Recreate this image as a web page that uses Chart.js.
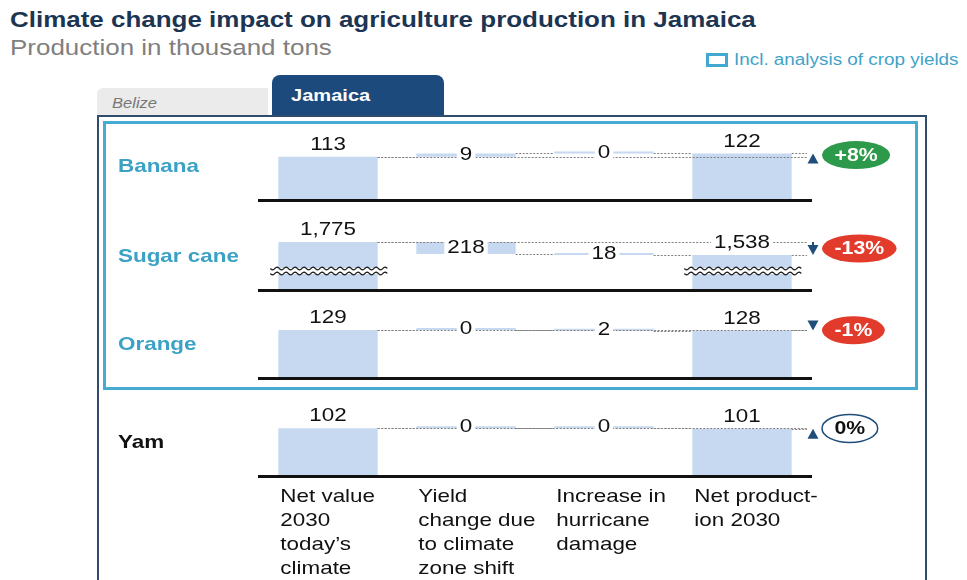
<!DOCTYPE html>
<html>
<head>
<meta charset="utf-8">
<script src="https://cdn.jsdelivr.net/npm/chart.js@4.4.1/dist/chart.umd.min.js"></script>
<style>
  html, body { margin: 0; padding: 0; background: #fff; }
  body { width: 967px; height: 580px; overflow: hidden; position: relative;
         font-family: "Liberation Sans", Arial, Helvetica, sans-serif; }
  .wide { position: absolute; white-space: nowrap; transform: scaleX(1.18); transform-origin: 0 0; }
  #title { left: 10px; top: 7px; font-size: 22px; font-weight: bold; color: #1c3553; }
  #subtitle { left: 10px; top: 35px; font-size: 22px; color: #7f7f7f; }
  #legendBox { position: absolute; left: 706px; top: 53px; width: 22px; height: 14px;
               border: 3px solid #3fa9cf; box-sizing: border-box; }
  #legendText { left: 734px; top: 51px; font-size: 16px; color: #3fa3c8; }
  .tab { position: absolute; box-sizing: border-box; }
  #tabBelize { left: 97px; top: 88px; width: 171px; height: 27px; background: #ebebeb; border-radius: 6px 0 0 0; }
  #tabJamaica { left: 272px; top: 75px; width: 172px; height: 40px; background: #1c4a7c; border-radius: 8px 8px 0 0; }
  #belizeText { left: 112px; top: 95px; font-size: 14px; font-style: italic; color: #777; }
  #jamaicaText { left: 291px; top: 86px; font-size: 17px; font-weight: bold; color: #fff; }
  #outerBox { position: absolute; left: 97px; top: 115px; width: 830px; height: 520px;
              border: 2px solid #2f4c6c; box-sizing: border-box; }
  #cropBox { position: absolute; left: 103px; top: 121px; width: 815px; height: 269px;
             border: 3px solid #45abd0; box-sizing: border-box; }
  canvas { position: absolute; left: 100px; }
</style>
</head>
<body>
<div id="title" class="wide">Climate change impact on agriculture production in Jamaica</div>
<div id="subtitle" class="wide">Production in thousand tons</div>
<div id="legendBox"></div>
<div id="legendText" class="wide">Incl. analysis of crop yields</div>
<div id="tabBelize" class="tab"></div>
<div id="tabJamaica" class="tab"></div>
<div id="belizeText" class="wide">Belize</div>
<div id="jamaicaText" class="wide">Jamaica</div>
<div id="outerBox"></div>
<div id="cropBox"></div>

<script>
// production figures, thousand tons
const crops = ['Banana', 'Sugar cane', 'Orange', 'Yam'];
const stepLabels = [
  ['Net value', '2030', 'today\u2019s', 'climate'],
  ['Yield', 'change due', 'to climate', 'zone shift'],
  ['Increase in', 'hurricane', 'damage'],
  ['Net product-', 'ion 2030']
];
const netToday = [113, 1775, 129, 102];
const yieldShift = [9, -218, 0, 0];
const hurricaneLoss = [0, -18, -2, 0];
const netFuture = [122, 1538, 128, 101];
const changePct = [8, -13, -1, 0];
const withYieldAnalysis = [true, true, true, false];

// y window of each row; sugar cane axis is cut (wavy marks)
const axisMin = [0, 900, 0, 0];
const axisMax = [178, 2140, 183, 145];
const baselineY = [200, 290, 378, 476];

const STRETCH = 1.18;
const FONT = '"Liberation Sans", Arial, Helvetica, sans-serif';
const BAR_BLUE = '#c6d9f1';
const TEAL = '#3ba2c6';
const NAVY = '#1f4e7a';

const fmt = v => v.toLocaleString('en-US');

function wideText(ctx, text, x, y, align) {
  ctx.save();
  ctx.translate(x, y);
  ctx.scale(STRETCH, 1);
  ctx.textAlign = align || 'center';
  ctx.textBaseline = 'middle';
  ctx.fillText(text, 0, 0);
  ctx.restore();
}
const wideWidth = (ctx, text) => ctx.measureText(text).width * STRETCH;

function dashed(ctx, x1, x2, y) {
  if (x2 <= x1) return;
  ctx.save();
  ctx.strokeStyle = '#808080';
  ctx.lineWidth = 1;
  ctx.setLineDash([2, 1.5]);
  ctx.beginPath();
  ctx.moveTo(x1, Math.round(y) + 0.5);
  ctx.lineTo(x2, Math.round(y) + 0.5);
  ctx.stroke();
  ctx.restore();
}

function boxedLabel(ctx, text, x, y) {
  const w = wideWidth(ctx, text) + 6;
  ctx.fillStyle = '#fff';
  ctx.fillRect(x - w / 2, y - 9, w, 18);
  ctx.fillStyle = '#111';
  wideText(ctx, text, x, y);
}

// double wavy line marking a cut axis
function wavyBreak(ctx, x1, x2, y) {
  ctx.save();
  ctx.fillStyle = '#fff';
  ctx.fillRect(x1, y - 3, x2 - x1, 6);
  ctx.strokeStyle = '#222';
  ctx.lineWidth = 1.2;
  [-2.5, 2.5].forEach(off => {
    ctx.beginPath();
    for (let x = x1; x <= x2; x += 1) {
      const yy = y + off + 1.4 * Math.sin((x - x1) / 9 * 2 * Math.PI);
      if (x === x1) ctx.moveTo(x, yy); else ctx.lineTo(x, yy);
    }
    ctx.stroke();
  });
  ctx.restore();
}

const rowDecor = {
  id: 'rowDecor',
  afterDatasetsDraw(chart, args, opts) {
    const r = opts.row;
    const {ctx, chartArea} = chart;
    const y = chart.scales.y;
    const bars = chart.getDatasetMeta(0).data;
    const left = i => bars[i].x - bars[i].width / 2;
    const right = i => bars[i].x + bars[i].width / 2;

    const today = netToday[r];
    const afterYield = today + yieldShift[r];
    const afterStorm = afterYield + hurricaneLoss[r];
    const levels = [today, afterYield, afterStorm];
    const arrowX = chartArea.right + 2;
    const yBase = y.getPixelForValue(today);
    const yNet = y.getPixelForValue(netFuture[r]);

    // reference line at today's value and running-total connectors
    dashed(ctx, right(0), arrowX - 6, yBase);
    for (let j = 0; j < 3; j++) dashed(ctx, right(j), left(j + 1), y.getPixelForValue(levels[j]));
    dashed(ctx, right(3), arrowX - 6, yNet);

    // baseline
    ctx.fillStyle = '#111';
    ctx.fillRect(chartArea.left - 1, chartArea.bottom - 1, chartArea.right - chartArea.left + 2, 3);

    if (axisMin[r] > 0) {
      [0, 3].forEach(i => wavyBreak(ctx, left(i) - 8, right(i) + 10, chartArea.bottom - 19));
    }

    // value labels
    ctx.font = '19px ' + FONT;
    [0, 3].forEach(i => boxedLabel(ctx, fmt(i === 0 ? today : netFuture[r]), bars[i].x, bars[i].y - 12));
    [yieldShift[r], hurricaneLoss[r]].forEach((d, k) => {
      const b = bars[k + 1];
      boxedLabel(ctx, fmt(Math.abs(d)), b.x, (b.y + b.base) / 2);
    });

    // change arrow
    const up = changePct[r] >= 0;
    const head = 10, hw = 5.5;
    ctx.fillStyle = NAVY;
    ctx.beginPath();
    const yHead = up ? yNet + head : yNet - head;
    ctx.moveTo(arrowX, yNet);
    ctx.lineTo(arrowX - hw, yHead);
    ctx.lineTo(arrowX + hw, yHead);
    ctx.closePath();
    ctx.fill();
    if (!up && yHead > yBase) ctx.fillRect(arrowX - 1, yBase, 2, yHead - yBase);
    if (up && yBase > yHead) ctx.fillRect(arrowX - 1, yHead, 2, yBase - yHead);

    // percentage badge
    const pct = changePct[r];
    const pctText = (pct > 0 ? '+' : '') + pct + '%';
    ctx.font = 'bold 18px ' + FONT;
    const w = wideWidth(ctx, pctText) + 25, h = 28;
    const cx = chartArea.right + 11 + w / 2, cy = (yBase + yNet) / 2;
    ctx.beginPath();
    ctx.ellipse(cx, cy, w / 2, h / 2, 0, 0, 2 * Math.PI);
    if (pct === 0) {
      ctx.fillStyle = '#fff';
      ctx.fill();
      ctx.strokeStyle = NAVY;
      ctx.lineWidth = 1.5;
      ctx.stroke();
      ctx.fillStyle = '#111';
    } else {
      ctx.fillStyle = pct > 0 ? '#2c9a4a' : '#e23b2c';
      ctx.fill();
      ctx.fillStyle = '#fff';
    }
    wideText(ctx, pctText, cx, cy + 1);

    // crop name
    ctx.font = 'bold 19px ' + FONT;
    ctx.fillStyle = withYieldAnalysis[r] ? TEAL : '#111';
    wideText(ctx, crops[r], 18, chartArea.bottom - 33, 'left');

    // step captions under the last row
    if (r === crops.length - 1) {
      ctx.font = '19px ' + FONT;
      ctx.fillStyle = '#111';
      stepLabels.forEach((lines, i) => {
        lines.forEach((ln, k) => wideText(ctx, ln, left(i) + 2, chartArea.bottom + 21 + 24 * k, 'left'));
      });
    }
  }
};

crops.forEach((crop, r) => {
  const last = r === crops.length - 1;
  const canvas = document.createElement('canvas');
  canvas.width = 820;
  canvas.height = last ? 186 : 83;
  canvas.style.top = (baselineY[r] - 80) + 'px';
  document.body.appendChild(canvas);

  const today = netToday[r];
  const afterYield = today + yieldShift[r];
  const afterStorm = afterYield + hurricaneLoss[r];

  new Chart(canvas, {
    type: 'bar',
    data: {
      labels: stepLabels.map(l => l.join(' ')),
      datasets: [{
        data: [[0, today], [today, afterYield], [afterYield, afterStorm], [0, netFuture[r]]],
        backgroundColor: BAR_BLUE,
        barPercentage: 0.72,
        categoryPercentage: 1,
        minBarLength: 2
      }]
    },
    options: {
      responsive: false,
      animation: false,
      events: [],
      layout: { padding: { left: 159, right: 109, top: 12, bottom: last ? 106 : 3 } },
      scales: {
        x: { display: false },
        y: { display: false, min: axisMin[r], max: axisMax[r] }
      },
      plugins: {
        legend: { display: false },
        tooltip: { enabled: false },
        rowDecor: { row: r }
      }
    },
    plugins: [rowDecor]
  });
});
</script>
</body>
</html>
